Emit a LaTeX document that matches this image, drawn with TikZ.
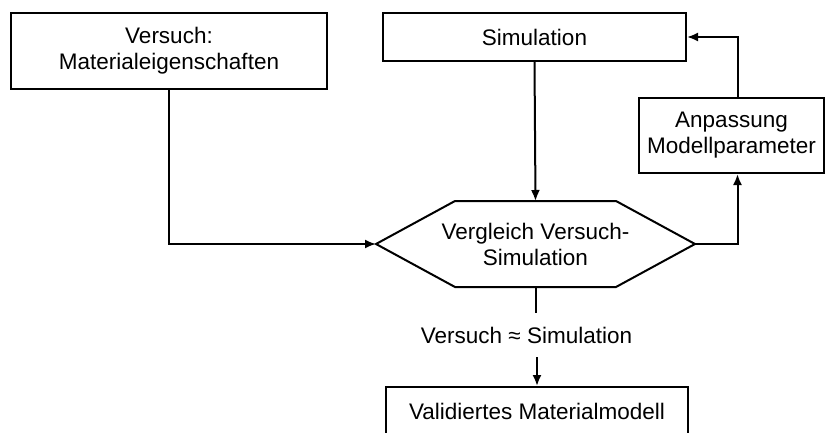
\documentclass[tikz,border=0pt]{standalone}
\usepackage{fontspec}
\setmainfont{Liberation Sans}
\usetikzlibrary{positioning}
\usetikzlibrary{arrows.meta}
\usetikzlibrary{calc}

\begin{document}
\begin{tikzpicture}[x=1pt, y=1pt,
    box/.style={draw, line width=2, inner sep=0, align=center, font=\fontsize{22.5}{26}\selectfont},
    pfeil/.style={line width=2, -{Latex[length=11pt,width=9pt]}},
    linie/.style={line width=2}]

  \useasboundingbox (0,0) rectangle (827,432);

  %boxes
  \node[box, minimum width=316, minimum height=76] (mat) at (169,381) {Versuch:\\Materialeigenschaften};
  \node[box, minimum width=303, minimum height=48] (sim) at (534.5,395) {Simulation};
  \node[box, minimum width=185, minimum height=75] (anp) at (731.5,296.5) {Anpassung\\Modellparameter};
  \node[box, minimum width=302, minimum height=48] (val) at (537,21) {Validiertes Materialmodell};

  %hexagon
  \def\ch{79};
  \node[box, draw=none, minimum width=317, minimum height=84] (vgl) at (535.5,188) {Vergleich Versuch-\\Simulation};
  \draw[linie, line join=miter] (vgl.west) -- ([xshift=\ch]vgl.north west) -- ([xshift=-\ch]vgl.north east)
      -- (vgl.east) -- ([xshift=-\ch]vgl.south east) -- ([xshift=\ch]vgl.south west) -- cycle;

  %label
  \node[box, draw=none, minimum height=42] (gl) at (526.5,97) {Versuch ≈ Simulation};

  %arrows
  \draw[pfeil] (mat.south) |- (vgl.west);
  \draw[pfeil] (sim.south) -- (vgl.north);
  \draw[pfeil] (vgl.east) -| ([xshift=6]anp.south);
  \draw[pfeil] ([xshift=6]anp.north) |- (sim.east);
  \draw[linie] (vgl.south) -- (vgl.south |- gl.north);
  \draw[pfeil] (val.north |- gl.south) -- (val.north);

\end{tikzpicture}
\end{document}
